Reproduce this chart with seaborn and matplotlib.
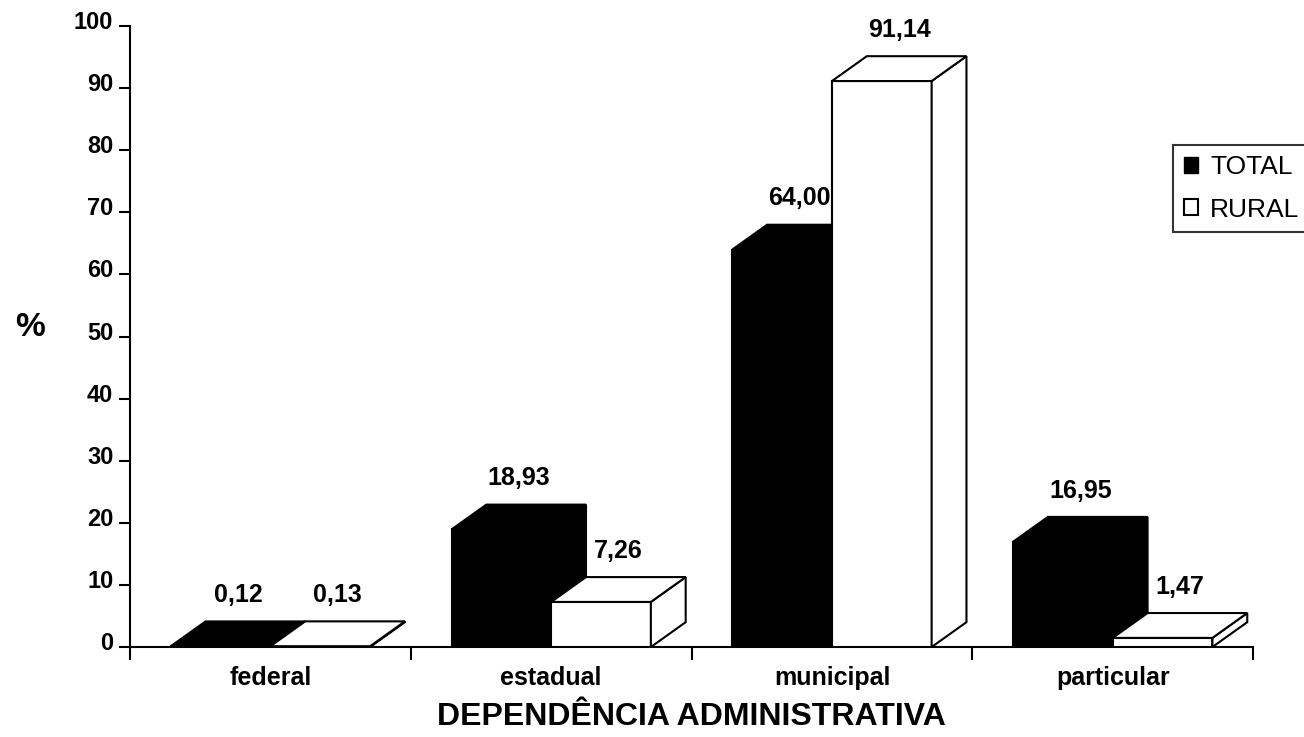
import numpy as np
import pandas as pd
import matplotlib
matplotlib.use("Agg")
import matplotlib.pyplot as plt
import matplotlib.transforms as mtransforms
from matplotlib.patches import Polygon, Patch
import seaborn as sns

sns.set_style("white")
plt.rcParams["font.family"] = ["Liberation Sans", "DejaVu Sans"]
plt.rcParams["text.color"] = "black"
plt.rcParams["xtick.color"] = "black"
plt.rcParams["ytick.color"] = "black"

# data
categories = ["federal", "estadual", "municipal", "particular"]
series = ["TOTAL", "RURAL"]
total = [0.12, 18.93, 64.00, 16.95]
rural = [0.13, 7.26, 91.14, 1.47]
yticks = list(range(0, 101, 10))

df = pd.DataFrame({
    "dep": categories * 2,
    "serie": ["TOTAL"] * 4 + ["RURAL"] * 4,
    "pct": total + rural,
})

fig = plt.figure(figsize=(13.04, 7.37), dpi=100)
ax = fig.add_axes([0.0997, 0.1221, 0.8613, 0.8426])

sns.barplot(data=df, x="dep", y="pct", hue="serie", order=categories,
            hue_order=series, palette={"TOTAL": "black", "RURAL": "white"},
            width=0.71, saturation=1, edgecolor="black", linewidth=1.5,
            errorbar=None, legend=False, ax=ax)

ax.set_xlim(-0.5, 3.5)
ax.set_ylim(0, 100)

# fake 3d: depth offset for top and side faces
dx, dy = 0.124, 4.0
for z, cont in enumerate(ax.containers):
    for bar in cont:
        x, w, h = bar.get_x(), bar.get_width(), bar.get_height()
        fc = bar.get_facecolor()
        bar.set_zorder(2 + z)
        side = Polygon([(x + w, 0), (x + w + dx, dy), (x + w + dx, h + dy), (x + w, h)],
                       closed=True, facecolor=fc, edgecolor="black", lw=1.5, zorder=2 + z)
        top = Polygon([(x, h), (x + w, h), (x + w + dx, h + dy), (x + dx, h + dy)],
                      closed=True, facecolor=fc, edgecolor="black", lw=1.5, zorder=2 + z,
                      joinstyle="miter")
        ax.add_patch(side)
        ax.add_patch(top)
        ax.annotate(f"{h:.2f}".replace(".", ","), (x + w / 2 + dx / 2, h + dy),
                    xytext=(0, 19), textcoords="offset points", ha="center",
                    va="center", fontsize=18, fontweight="bold", zorder=10)

# axes styling
for s in ["top", "right"]:
    ax.spines[s].set_visible(False)
for s in ["left", "bottom"]:
    ax.spines[s].set_linewidth(1.5)
    ax.spines[s].set_color("black")

ax.set_yticks(yticks)
ax.set_yticklabels([str(t) for t in yticks], fontsize=17, fontweight="bold")
ax.tick_params(axis="y", left=True, direction="out", length=8, width=1.5, pad=4,
               color="black", labelcolor="black")
off = mtransforms.ScaledTranslation(0, 6 / 100, fig.dpi_scale_trans)
for lab in ax.get_yticklabels():
    lab.set_transform(lab.get_transform() + off)

ax.set_xticks(range(len(categories)))
ax.set_xticklabels(categories, fontsize=18, fontweight="bold")
ax.set_xticks(np.arange(-0.5, len(categories)), minor=True)
ax.tick_params(axis="x", which="major", bottom=True, length=0, pad=14,
               labelcolor="black")
ax.tick_params(axis="x", which="minor", bottom=True, direction="out", length=9,
               width=1.5, color="black")

ax.set_xlabel("")
ax.set_ylabel("")
fig.text(0.023, 0.556, "%", fontsize=24, fontweight="bold", ha="center", va="center")
fig.text(0.53, 0.027, "DEPENDÊNCIA ADMINISTRATIVA", fontsize=23, fontweight="bold",
         ha="center", va="center")

handles = [Patch(facecolor="black", edgecolor="black", lw=1),
           Patch(facecolor="white", edgecolor="black", lw=1.5)]
leg = fig.legend(handles, series, loc="lower left", bbox_to_anchor=(0.8995, 0.685),
                 bbox_transform=fig.transFigure, fontsize=19, frameon=True,
                 fancybox=False, handlelength=0.55, handleheight=0.55,
                 handletextpad=0.45, borderpad=0.4, labelspacing=0.7, borderaxespad=0)
leg.get_frame().set_edgecolor("black")
leg.get_frame().set_linewidth(1.5)
for t in leg.get_texts():
    t.set_color("black")

fig.savefig("out.png", dpi=100, facecolor="white")
